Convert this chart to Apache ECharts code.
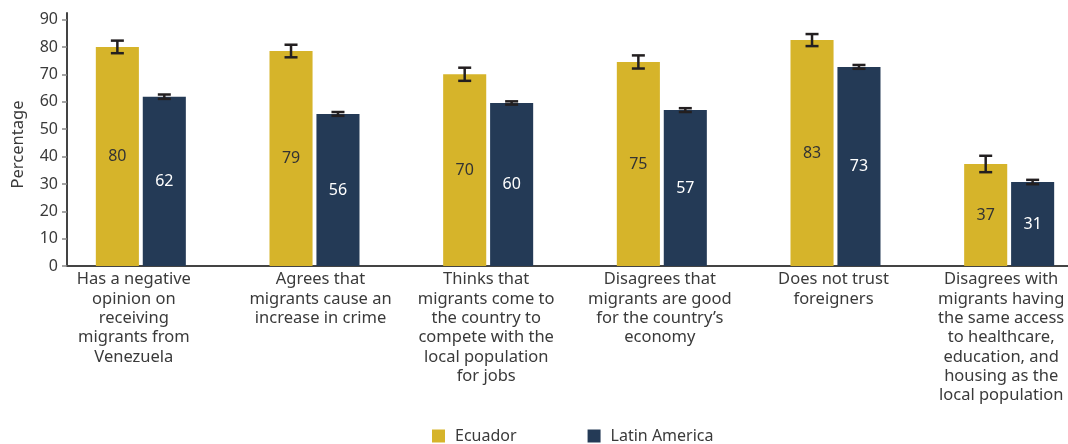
<!DOCTYPE html>
<html><head><meta charset="utf-8">
<script src="https://cdn.jsdelivr.net/npm/echarts@6/dist/echarts.min.js"></script>
<style>html,body{margin:0;padding:0;background:#fff}#c{width:1068px;height:444px}</style>
</head><body><div id="c"></div>
<script>
var categories = [
  "Has a negative\nopinion on\nreceiving\nmigrants from\nVenezuela",
  "Agrees that\nmigrants cause an\nincrease in crime",
  "Thinks that\nmigrants come to\nthe country to\ncompete with the\nlocal population\nfor jobs",
  "Disagrees that\nmigrants are good\nfor the country\u2019s\neconomy",
  "Does not trust\nforeigners",
  "Disagrees with\nmigrants having\nthe same access\nto healthcare,\neducation, and\nhousing as the\nlocal population"
];
var seriesNames = ["Ecuador", "Latin America"];
var ecuador = [80.1, 78.6, 70.1, 74.6, 82.6, 37.3];
var latam = [61.9, 55.6, 59.6, 57.0, 72.8, 30.7];
var ecuadorErr = [2.3, 2.3, 2.4, 2.4, 2.2, 3.0];
var latamErr = [0.8, 0.7, 0.6, 0.7, 0.7, 0.8];
var yTicks = [0, 10, 20, 30, 40, 50, 60, 70, 80, 90];

// horizontal nudge of each category label (style only)
var labelShift = [-7, 6, -2, -2, -2, -8];

var FONT = "Noto Sans";
var TXT = '#3a3a3a';
var BW = 0.248, GAP = 0.09;
var colors = ["#D6B42A", "#243A56"];

function errSeries(vals, errs, sign) {
  return {
    type: 'custom', xAxisIndex: 1, yAxisIndex: 1, z: 10, silent: true,
    data: vals.map(function (v, i) { return [i, v, errs[i]]; }),
    renderItem: function (params, api) {
      var ci = api.value(0), v = api.value(1), e = api.value(2);
      var band = api.size([1, 0])[0];
      var off = sign * band * (BW / 2 + BW * GAP / 2);
      var x = api.coord([ci, v])[0] + off;
      var t = api.coord([ci, v + e])[1], b = api.coord([ci, v - e])[1];
      var hw = 6.5;
      var st = { stroke: '#231F20', lineWidth: 2.5 };
      return { type: 'group', children: [
        { type: 'line', shape: { x1: x, y1: t, x2: x, y2: b }, style: st },
        { type: 'line', shape: { x1: x - hw, y1: t, x2: x + hw, y2: t }, style: st },
        { type: 'line', shape: { x1: x - hw, y1: b, x2: x + hw, y2: b }, style: st }
      ]};
    }
  };
}

var catData = categories.map(function (c, i) {
  var s = labelShift[i];
  return { value: c, textStyle: { padding: s < 0 ? [0, -2 * s, 0, 0] : [0, 0, 0, 2 * s] } };
});

var chart = echarts.init(document.getElementById('c'), null, { renderer: 'canvas' });
chart.setOption({
  animation: false,
  textStyle: { fontFamily: FONT },
  grid: [
    { left: 67, top: 13, width: 1001, height: 253, outerBoundsMode: 'none', containLabel: false },
    { left: 54, top: 13, width: 1042, height: 253, outerBoundsMode: 'none', containLabel: false }
  ],
  legend: {
    left: 432, top: 428, padding: 0, itemWidth: 13, itemHeight: 13, itemGap: 71,
    icon: 'rect',
    textStyle: { fontFamily: FONT, fontSize: 16, color: TXT, padding: [0, 0, 0, 5] },
    data: seriesNames
  },
  xAxis: [
    { gridIndex: 0, type: 'category', data: [''],
      axisLine: { show: true, lineStyle: { color: '#444', width: 2 } },
      axisTick: { show: false }, axisLabel: { show: false } },
    { gridIndex: 1, type: 'category', data: catData,
      axisLine: { show: false }, axisTick: { show: false },
      axisLabel: { interval: 0, margin: 4, fontFamily: FONT, fontSize: 16.5, lineHeight: 19.3, color: TXT, align: 'center' } }
  ],
  yAxis: [
    { gridIndex: 0, type: 'value', min: 0, max: 92.5, interval: 10,
      name: 'Percentage', nameLocation: 'middle', nameGap: 40,
      nameTextStyle: { fontFamily: FONT, fontSize: 16.5, color: TXT, padding: [0, 10, 0, 0] },
      axisLine: { show: true, lineStyle: { color: '#444', width: 2 } },
      axisTick: { show: true, length: 5, customValues: yTicks, lineStyle: { color: '#888', width: 1.5 } },
      axisLabel: { margin: 9, customValues: yTicks, fontFamily: FONT, fontSize: 16, color: TXT },
      splitLine: { show: false } },
    { gridIndex: 1, type: 'value', min: 0, max: 92.5, show: false, splitLine: { show: false } }
  ],
  series: [
    { name: seriesNames[0], type: 'bar', xAxisIndex: 1, yAxisIndex: 1, data: ecuador,
      barWidth: (BW * 100) + '%', barGap: (GAP * 100) + '%',
      itemStyle: { color: colors[0] },
      label: { show: true, position: 'inside', fontFamily: FONT, fontSize: 16, color: '#333',
        formatter: function (p) { return Math.round(p.value); } } },
    { name: seriesNames[1], type: 'bar', xAxisIndex: 1, yAxisIndex: 1, data: latam,
      barWidth: (BW * 100) + '%', barGap: (GAP * 100) + '%',
      itemStyle: { color: colors[1] },
      label: { show: true, position: 'inside', fontFamily: FONT, fontSize: 16, color: '#fff',
        formatter: function (p) { return Math.round(p.value); } } },
    errSeries(ecuador, ecuadorErr, -1),
    errSeries(latam, latamErr, 1)
  ]
});
</script></body></html>
